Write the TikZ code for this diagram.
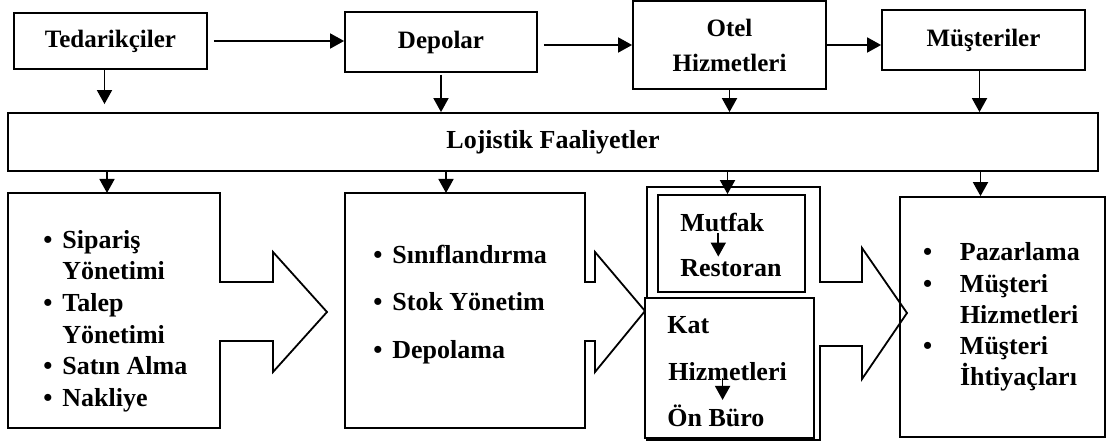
\documentclass[tikz,border=0pt]{standalone}
\usepackage{fontspec}
\setmainfont{Liberation Serif}
\usetikzlibrary{arrows.meta}
\newcommand{\blt}{\makebox[9.5pt][l]{\textbullet}}
\newcommand{\bltw}{\makebox[18.5pt][l]{\textbullet}}
\tikzset{>={Triangle[length=7pt,width=7.5pt]},
    box/.style={
        draw,
        line width=0.9pt,
        inner sep=0pt,
        align=center,
        font=\bfseries\fontsize{12.5}{17.5}\selectfont},
    listtext/.style={
        inner sep=0pt,
        align=left,
        font=\bfseries\fontsize{13}{15.8}\selectfont},
    word/.style={
        inner sep=0pt,
        anchor=base west,
        font=\bfseries\fontsize{13}{15.8}\selectfont},
    outline/.style={
        draw,
        line width=0.9pt},
    every edge/.style={
        draw,
        ->,
        line width=0.9pt}}

\begin{document}
\begin{tikzpicture}[x=0.5pt,y=-0.5pt]
        \useasboundingbox (0,0) rectangle (1107,443);

        \node[box,minimum width=96.5pt,minimum height=28pt] (ted) at (110.5,41) {Tedarikçiler};
        \node[box,minimum width=96pt,minimum height=30pt] (dep) at (441,42) {Depolar};
        \node[box,minimum width=96.5pt,minimum height=44pt] (otel) at (729.5,45) {Otel\\Hizmetleri};
        \node[box,minimum width=101.5pt,minimum height=30pt] (mus) at (983.5,40) {Müşteriler};

        \node[box,minimum width=545pt,minimum height=29pt,font=\bfseries\fontsize{13}{15.8}\selectfont] (loj) at (553,142) {Lojistik Faaliyetler};

        \draw (ted.east) edge[shorten <=3pt] (ted.east -| dep.west);
        \draw (otel.west -| dep.east) edge[shorten <=3pt] (otel.west);
        \draw (otel.east) edge (otel.east -| mus.west);

        \draw ([xshift=-3pt]ted.south) edge[shorten >=4pt] ([xshift=-3pt]ted.south |- loj.north);
        \draw (dep.south) edge[shorten <=1pt] (dep.south |- loj.north);
        \draw (otel.south) edge (otel.south |- loj.north);
        \draw ([xshift=-2pt]mus.south) edge ([xshift=-2pt]mus.south |- loj.north);

        % first column
        \draw[outline] (8,193) -- (220,193) -- (220,282) -- (273,282) -- (273,252) -- (327,312)
            -- (273,372) -- (273,341) -- (220,341) -- (220,428) -- (8,428) -- cycle;
        \coordinate (atop) at (107,193);
        \node[listtext,anchor=west] (alist) at (43,321) {\blt Sipariş\\\hspace*{9.5pt}Yönetimi\\\blt Talep\\\hspace*{9.5pt}Yönetimi\\\blt Satın Alma\\\blt Nakliye};

        % second column
        \draw[outline] (345,193) -- (585,193) -- (585,282) -- (595,282) -- (595,252) -- (645,311)
            -- (595,372) -- (595,341) -- (585,341) -- (585,428) -- (345,428) -- cycle;
        \coordinate (btop) at (446,193);
        \node[listtext,anchor=west,font=\bfseries\fontsize{13}{23.75}\selectfont] (blist) at (373,304.5) {\blt Sınıflandırma\\\blt Stok Yönetim\\\blt Depolama};

        % third column
        \draw[outline] (647,187) -- (820,187) -- (820,282) -- (862,282) -- (862,248) -- (907,313)
            -- (862,379) -- (862,346) -- (820,346) -- (820,440) -- (647,440) -- cycle;
        \node[box,fill=white,minimum width=84.5pt,minimum height=70pt] (katbox) at (729.5,368) {};
        \node[box,minimum width=73.5pt,minimum height=48.5pt] (mkbox) at (731.5,243.5) {};
        \node[word] (mut) at (680,232) {Mutfak};
        \node[word] (res) at (680,277) {Restoran};
        \node[word] (kat) at (667,333) {Kat};
        \node[word] (hiz) at (668,380) {Hizmetleri};
        \node[word] (onb) at (667,426) {Ön Büro};
        \draw ([xshift=-2pt]mut.south) edge[shorten >=1.5pt] ([xshift=-2pt]mut.south |- res.north);
        \draw ([xshift=-2.5pt]hiz.south) edge[shorten <=-1.5pt,shorten >=2pt] ([xshift=-2.5pt]hiz.south |- onb.north);

        % fourth column
        \node[box,align=left,anchor=center,text width=79.5pt,inner xsep=11.5pt,minimum height=120pt,
            font=\bfseries\fontsize{13}{15.6}\selectfont] (dbox) at (1002.5,317)
            {\bltw Pazarlama\\\bltw Müşteri\\\hspace*{18.5pt}Hizmetleri\\\bltw Müşteri\\\hspace*{18.5pt}İhtiyaçları};

        \draw (loj.south -| atop) edge (atop);
        \draw (loj.south -| btop) edge (btop);
        \draw ([xshift=-2pt]loj.south -| mkbox.north) edge ([xshift=-2pt]mkbox.north);
        \draw ([xshift=-11pt]loj.south -| dbox.north) edge ([xshift=-11pt]dbox.north);
    \end{tikzpicture}
\end{document}
